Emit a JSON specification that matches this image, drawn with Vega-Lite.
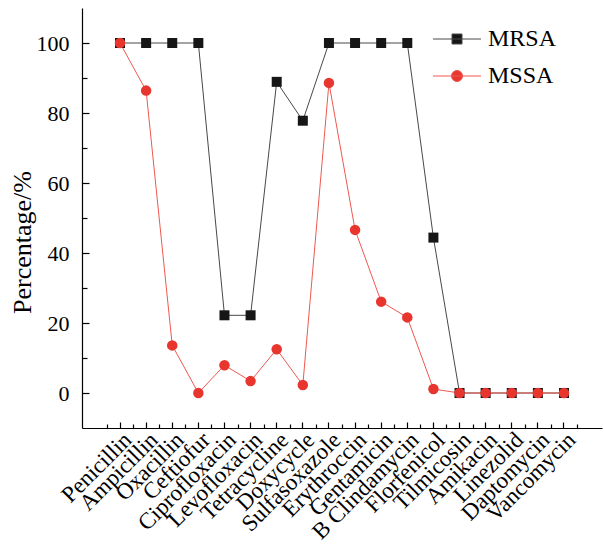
{
  "$schema": "https://vega.github.io/schema/vega-lite/v6.json",
  "width": 520,
  "height": 420,
  "autosize": {"type": "none"},
  "padding": {"left": 82, "top": 8, "right": 2, "bottom": 124},
  "background": "white",
  "config": {
    "view": {"stroke": null},
    "font": "Liberation Serif",
    "axis": {
      "grid": false,
      "domainColor": "#000000",
      "domainWidth": 1.2,
      "tickColor": "#000000",
      "tickWidth": 1.2,
      "labelColor": "#000000",
      "titleColor": "#000000",
      "labelFont": "Liberation Serif",
      "titleFont": "Liberation Serif",
      "labelFontSize": 22,
      "titleFontSize": 26,
      "titleFontWeight": "normal"
    },
    "legend": {
      "orient": "none", "legendX": 363, "legendY": 19, "title": null, "padding": 0,
      "symbolSize": 100, "labelFontSize": 24, "labelFont": "Liberation Serif", "labelColor": "#000000",
      "labelOffset": 19, "rowPadding": 13, "symbolStrokeWidth": 1
    }
  },
  "data": {
    "values": [
      {"drug": "Penicillin", "strain": "MRSA", "pct": 100},
      {"drug": "Ampicillin", "strain": "MRSA", "pct": 100},
      {"drug": "Oxacillin", "strain": "MRSA", "pct": 100},
      {"drug": "Ceftiofur", "strain": "MRSA", "pct": 100},
      {"drug": "Ciprofloxacin", "strain": "MRSA", "pct": 22.2},
      {"drug": "Levofloxacin", "strain": "MRSA", "pct": 22.2},
      {"drug": "Tetracycline", "strain": "MRSA", "pct": 88.9},
      {"drug": "Doxycycle", "strain": "MRSA", "pct": 77.8},
      {"drug": "Sulfasoxazole", "strain": "MRSA", "pct": 100},
      {"drug": "Erythroccin", "strain": "MRSA", "pct": 100},
      {"drug": "Gentamicin", "strain": "MRSA", "pct": 100},
      {"drug": "B Clindamycin", "strain": "MRSA", "pct": 100},
      {"drug": "Florfenicol", "strain": "MRSA", "pct": 44.4},
      {"drug": "Tilmicosin", "strain": "MRSA", "pct": 0},
      {"drug": "Amikacin", "strain": "MRSA", "pct": 0},
      {"drug": "Linezolid", "strain": "MRSA", "pct": 0},
      {"drug": "Daptomycin", "strain": "MRSA", "pct": 0},
      {"drug": "Vancomycin", "strain": "MRSA", "pct": 0},
      {"drug": "Penicillin", "strain": "MSSA", "pct": 100},
      {"drug": "Ampicillin", "strain": "MSSA", "pct": 86.4},
      {"drug": "Oxacillin", "strain": "MSSA", "pct": 13.6},
      {"drug": "Ceftiofur", "strain": "MSSA", "pct": 0},
      {"drug": "Ciprofloxacin", "strain": "MSSA", "pct": 7.95},
      {"drug": "Levofloxacin", "strain": "MSSA", "pct": 3.4},
      {"drug": "Tetracycline", "strain": "MSSA", "pct": 12.5},
      {"drug": "Doxycycle", "strain": "MSSA", "pct": 2.27},
      {"drug": "Sulfasoxazole", "strain": "MSSA", "pct": 88.6},
      {"drug": "Erythroccin", "strain": "MSSA", "pct": 46.6},
      {"drug": "Gentamicin", "strain": "MSSA", "pct": 26.1},
      {"drug": "B Clindamycin", "strain": "MSSA", "pct": 21.6},
      {"drug": "Florfenicol", "strain": "MSSA", "pct": 1.14},
      {"drug": "Tilmicosin", "strain": "MSSA", "pct": 0},
      {"drug": "Amikacin", "strain": "MSSA", "pct": 0},
      {"drug": "Linezolid", "strain": "MSSA", "pct": 0},
      {"drug": "Daptomycin", "strain": "MSSA", "pct": 0},
      {"drug": "Vancomycin", "strain": "MSSA", "pct": 0}
    ]
  },
  "layer": [
    {
      "mark": {"type": "line", "strokeWidth": 1},
      "encoding": {
        "x": {
          "field": "drug", "type": "nominal", "sort": null,
          "scale": {"type": "band", "paddingInner": 0, "paddingOuter": 0.955},
          "axis": {"orient": "bottom", "title": null, "labelAngle": -45, "labelFontSize": 23, "tickSize": -6, "labelPadding": 14, "labelOffset": 8, "labelAlign": "right", "labelBaseline": "middle"}
        },
        "y": {
          "field": "pct", "type": "quantitative",
          "scale": {"domain": [-10, 110], "nice": false, "zero": false},
          "axis": {"orient": "left", "values": [0, 20, 40, 60, 80, 100], "tickSize": -7, "labelPadding": 20, "title": "Percentage/%", "titleAngle": -90, "titleX": -60, "titleY": 234, "titleAlign": "center", "titleBaseline": "middle"}
        },
        "color": {
          "field": "strain", "type": "nominal",
          "scale": {"domain": ["MRSA", "MSSA"], "range": ["#484848", "#ee5850"]},
          "legend": {
            "encode": {"symbols": {"update": {
              "shape": {"signal": "datum.value == 'MRSA' ? 'M-4.8,0H4.8M-1,-1H1V1H-1Z' : 'M-4.8,0H4.8M1.1,0A1.1,1.1,0,1,1,-1.1,0A1.1,1.1,0,1,1,1.1,0Z'"},
              "stroke": {"signal": "datum.value == 'MRSA' ? '#484848' : '#ee5850'"},
              "fill": {"signal": "datum.value == 'MRSA' ? '#161616' : '#e8352e'"},
              "strokeWidth": {"value": 1},
              "opacity": {"value": 1}
            }}}
          }
        }
      }
    },
    {
      "transform": [{"filter": "datum.strain == 'MRSA'"}],
      "mark": {"type": "point", "shape": "square", "filled": true, "size": 100, "opacity": 1, "color": "#161616"},
      "encoding": {
        "x": {
          "field": "drug", "type": "nominal", "sort": null,
          "axis": {"orient": "bottom", "title": null, "labels": false, "domain": false, "tickBand": "extent", "tickSize": -4}
        },
        "y": {
          "field": "pct", "type": "quantitative",
          "axis": {"orient": "left", "title": null, "labels": false, "domain": false, "values": [10, 30, 50, 70, 90], "tickSize": -5}
        }
      }
    },
    {
      "transform": [{"filter": "datum.strain == 'MSSA'"}],
      "mark": {"type": "point", "shape": "circle", "filled": true, "size": 110, "opacity": 1, "color": "#e8352e"},
      "encoding": {
        "x": {"field": "drug", "type": "nominal", "sort": null, "axis": null},
        "y": {"field": "pct", "type": "quantitative", "axis": null}
      }
    }
  ],
  "resolve": {"axis": {"x": "independent", "y": "independent"}}
}
